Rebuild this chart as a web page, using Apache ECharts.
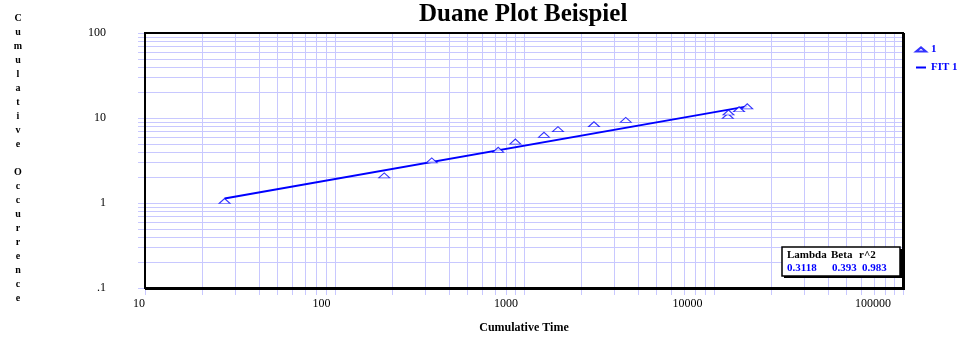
<!DOCTYPE html>
<html><head><meta charset="utf-8">
<script src="https://cdn.jsdelivr.net/npm/echarts@6/dist/echarts.min.js"></script>
<style>html,body{margin:0;padding:0;background:#fff}#c{width:959px;height:340px}</style>
</head><body><div id="c"></div>
<script>
// ---- data ----
const cumTime = [26.3, 183, 326, 731, 900, 1275, 1511, 2340, 3443, 11900, 12000, 13640, 15070];
const cumOcc  = [1, 2, 3, 4, 5, 6, 7, 8, 9, 10, 11, 12, 13];
const fitTime = [26.3, 15070];
const fitOcc  = [1.13, 13.7];
const xTickLabels = ['10', '100', '1000', '10000', '100000'];
const yTickLabels = ['.1', '1', '10', '100'];
const statHeaders = ['Lambda', 'Beta', 'r^2'];
const statValues  = ['0.3118', '0.393', '0.983'];

const X_MIN = 10, X_MAX = 100000, Y_MIN = 0.1, Y_MAX = 100;
const GRID_COLOR = '#c8c8ff';
const BLUE = '#0000ff';
const SERIF = '"Liberation Serif", "Times New Roman", serif';
const TICK = 7;

// grid line values (majors + minors 2..9 per decade)
const xGridVals = [], yGridVals = [];
[10, 100, 1000, 10000].forEach(d => { for (let k = 1; k <= 9; k++) xGridVals.push(d * k); });
xGridVals.push(X_MAX);
[0.1, 1, 10].forEach(d => { for (let k = 1; k <= 9; k++) yGridVals.push(+(d * k).toPrecision(3)); });
yGridVals.push(Y_MAX);

function renderGrid(params, api) {
  const ch = [];
  xGridVals.forEach(v => {
    const a = api.coord([v, Y_MIN]), b = api.coord([v, Y_MAX]);
    const x = Math.round(a[0]) + 0.5;
    ch.push({ type: 'line', shape: { x1: x, y1: a[1] + TICK, x2: x, y2: b[1] }, style: { stroke: GRID_COLOR, lineWidth: 1 } });
  });
  yGridVals.forEach(v => {
    const a = api.coord([X_MIN, v]), b = api.coord([X_MAX, v]);
    const y = Math.round(a[1]) + 0.5;
    ch.push({ type: 'line', shape: { x1: a[0] - TICK, y1: y, x2: b[0], y2: y }, style: { stroke: GRID_COLOR, lineWidth: 1 } });
  });
  const tl = api.coord([X_MIN, Y_MAX]), br = api.coord([X_MAX, Y_MIN]);
  ch.push({ type: 'rect', shape: { x: tl[0], y: tl[1], width: br[0] - tl[0], height: br[1] - tl[1] },
            style: { fill: 'none', stroke: '#000', lineWidth: 2 } });
  ch.push({ type: 'line', shape: { x1: br[0] + 1.5, y1: tl[1], x2: br[0] + 1.5, y2: br[1] + 2 }, style: { stroke: '#000', lineWidth: 1 } });
  ch.push({ type: 'line', shape: { x1: tl[0], y1: br[1] + 1.5, x2: br[0] + 2, y2: br[1] + 1.5 }, style: { stroke: '#000', lineWidth: 1 } });
  return { type: 'group', children: ch };
}

const xRich = {};
const xShift = [12, 26, 36, 52, 60];
xTickLabels.forEach((t, i) => {
  xRich['d' + (i + 1)] = { fontFamily: SERIF, fontSize: 12, color: '#000', padding: [0, xShift[i], 0, 0] };
});

const TRI = 'path://M0,5L6,0L12,5Z';
const OFF = { show: false };

const chart = echarts.init(document.getElementById('c'), null, { renderer: 'canvas' });
chart.setOption({
  animation: false,
  backgroundColor: '#fff',
  grid: { left: 145, top: 33, width: 758, height: 255, show: false },
  xAxis: {
    type: 'log', logBase: 10, min: X_MIN, max: X_MAX,
    axisLine: OFF, axisTick: OFF, splitLine: OFF, minorTick: OFF, minorSplitLine: OFF, splitArea: OFF,
    axisLabel: {
      margin: 10, fontFamily: SERIF, fontSize: 12, color: '#000',
      formatter: v => { const e = Math.round(Math.log10(v)); return '{d' + e + '|' + xTickLabels[e - 1] + '}'; },
      rich: xRich
    },
    name: 'Cumulative Time', nameLocation: 'middle', nameGap: 34,
    nameTextStyle: { fontFamily: SERIF, fontSize: 12, fontWeight: 'bold', color: '#000' }
  },
  yAxis: {
    type: 'log', logBase: 10, min: Y_MIN, max: Y_MAX,
    axisLine: OFF, axisTick: OFF, splitLine: OFF, minorTick: OFF, minorSplitLine: OFF, splitArea: OFF,
    axisLabel: {
      margin: 39, fontFamily: SERIF, fontSize: 12, color: '#000',
      formatter: v => { const e = Math.round(Math.log10(v)); return yTickLabels[e + 1]; }
    }
  },
  legend: {
    orient: 'vertical', left: 910, top: 39, itemWidth: 10, itemHeight: 6, itemGap: 7,
    data: [{ name: '1', icon: TRI }, { name: 'FIT 1', icon: 'path://M0,0H10V2H0Z' }],
    textStyle: { fontFamily: SERIF, fontSize: 11, fontWeight: 'bold', color: BLUE }
  },
  graphic: [
    { type: 'text', left: 419, top: 2, style: { text: 'Duane Plot Beispiel', font: 'bold 25px ' + SERIF, fill: '#000' } },
    { type: 'text', x: 18, y: 11, style: { text: 'C\nu\nm\nu\nl\na\nt\ni\nv\ne\n \nO\nc\nc\nu\nr\nr\ne\nn\nc\ne',
      font: 'bold 10px ' + SERIF, fill: '#000', align: 'center', verticalAlign: 'top', lineHeight: 14 } },
    { type: 'rect', shape: { x: 784, y: 249, width: 118, height: 29 }, style: { fill: '#000' }, z: 50 },
    { type: 'rect', shape: { x: 782, y: 247, width: 118, height: 29 }, style: { fill: '#fff', stroke: '#000', lineWidth: 1.5 }, z: 51 },
    { type: 'text', x: 787, y: 255, z: 52, style: { text: statHeaders[0], font: 'bold 11px ' + SERIF, fill: '#000', verticalAlign: 'middle' } },
    { type: 'text', x: 831, y: 255, z: 52, style: { text: statHeaders[1], font: 'bold 11px ' + SERIF, fill: '#000', verticalAlign: 'middle' } },
    { type: 'text', x: 859, y: 255, z: 52, style: { text: statHeaders[2], font: 'bold 11px ' + SERIF, fill: '#000', verticalAlign: 'middle' } },
    { type: 'text', x: 787, y: 268.5, z: 52, style: { text: statValues[0], font: 'bold 11px ' + SERIF, fill: BLUE, verticalAlign: 'middle' } },
    { type: 'text', x: 832, y: 268.5, z: 52, style: { text: statValues[1], font: 'bold 11px ' + SERIF, fill: BLUE, verticalAlign: 'middle' } },
    { type: 'text', x: 862, y: 268.5, z: 52, style: { text: statValues[2], font: 'bold 11px ' + SERIF, fill: BLUE, verticalAlign: 'middle' } }
  ],
  series: [
    { type: 'custom', name: 'grid', silent: true, clip: false, z: 1,
      renderItem: renderGrid, data: [[X_MIN, Y_MIN]] },
    { type: 'line', name: 'FIT 1', z: 4, data: fitTime.map((t, i) => [t, fitOcc[i]]),
      symbol: 'none', lineStyle: { color: BLUE, width: 2 }, itemStyle: { color: BLUE } },
    { type: 'scatter', name: '1', z: 5, data: cumTime.map((t, i) => [t, cumOcc[i]]),
      symbol: TRI, symbolSize: [11, 5], symbolOffset: [0, -2],
      itemStyle: { color: '#fff', borderColor: BLUE, borderWidth: 1 } }
  ]
});
</script></body></html>
